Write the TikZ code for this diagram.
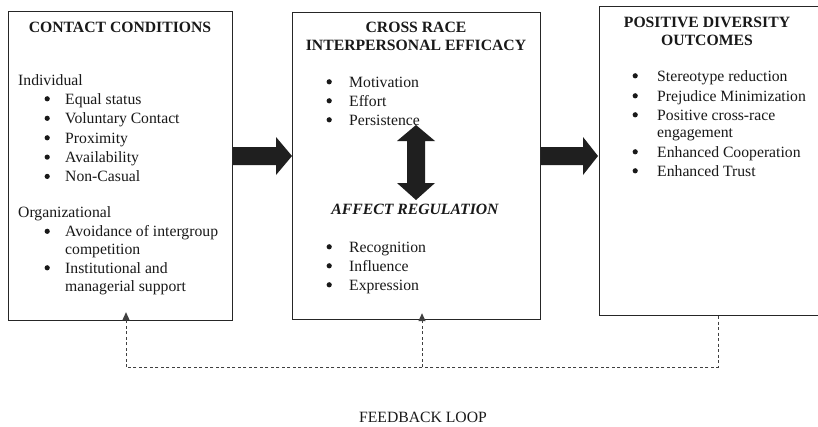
\documentclass[tikz,border=0pt]{standalone}
\usepackage{fontspec}
\setmainfont{Liberation Serif}
\usetikzlibrary{arrows.meta,calc}
\newcommand\bitem[2]{\hspace*{#1}#2}
\begin{document}
\begin{tikzpicture}[x=1pt,y=-1pt,
  box/.style={draw=black!85, line width=1.2pt, inner sep=0, anchor=north west},
  txt/.style={anchor=base west, inner sep=0, font=\fontsize{15.7}{17.5}\selectfont, text=black!90},
  ttl/.style={anchor=base, inner sep=0, font=\fontsize{15.7}{17.5}\selectfont\bfseries, text=black!90},
  fat/.style={fill=black!88},
  dotb/.style={fill=black!90},
  fb/.style={draw=black!75, line width=0.9pt, dash pattern=on 3pt off 2.5pt}
]
\clip (0,0) rectangle (818,426);
\fill[white] (0,0) rectangle (818,426);
% boxes
\node[box, minimum width=224, minimum height=309] (b1) at (8,11) {};
\node[box, minimum width=248, minimum height=307] (b2) at (292,12) {};
\node[box, minimum width=240, minimum height=309] (b3) at (599,6) {};
% box 1
\node[ttl] (t1) at (120,32) {CONTACT CONDITIONS};
\node[txt] (i0) at (18,85) {Individual};
\node[txt] (i1) at (44,104) {\bitem{21pt}{Equal status}};
\node[txt] (i2) at (44,123.5) {\bitem{21pt}{Voluntary Contact}};
\node[txt] (i3) at (44,143) {\bitem{21pt}{Proximity}};
\node[txt] (i4) at (44,162.3) {\bitem{21pt}{Availability}};
\node[txt] (i5) at (44,181.6) {\bitem{21pt}{Non-Casual}};
\node[txt] (o0) at (18,217) {Organizational};
\node[txt] (o1) at (44,236.5) {\bitem{21pt}{Avoidance of intergroup}};
\node[txt] (o1b) at (65,254) {competition};
\node[txt] (o2) at (44,273) {\bitem{21pt}{Institutional and}};
\node[txt] (o2b) at (65,291) {managerial support};
% box 2
\node[ttl] (t2a) at (416,32) {CROSS RACE};
\node[ttl] (t2b) at (416,50) {INTERPERSONAL EFFICACY};
\node[txt] (m1) at (326,87) {\bitem{23pt}{Motivation}};
\node[txt] (m2) at (326,106) {\bitem{23pt}{Effort}};
\node[txt] (m3) at (326,125) {\bitem{23pt}{Persistence}};
\node[ttl, font=\fontsize{15.7}{17.5}\selectfont\bfseries\itshape] (ar) at (415,214) {AFFECT REGULATION};
\node[txt] (r1) at (326,252) {\bitem{23pt}{Recognition}};
\node[txt] (r2) at (326,271) {\bitem{23pt}{Influence}};
\node[txt] (r3) at (326,290) {\bitem{23pt}{Expression}};
% box 3
\node[ttl] (t3a) at (707,27) {POSITIVE DIVERSITY};
\node[ttl] (t3b) at (707,45) {OUTCOMES};
\node[txt] (p1) at (632,81) {\bitem{25pt}{Stereotype reduction}};
\node[txt] (p2) at (632,101) {\bitem{25pt}{Prejudice Minimization}};
\node[txt] (p3) at (632,120) {\bitem{25pt}{Positive cross-race}};
\node[txt] (p3b) at (657,137) {engagement};
\node[txt] (p4) at (632,157) {\bitem{25pt}{Enhanced Cooperation}};
\node[txt] (p5) at (632,176) {\bitem{25pt}{Enhanced Trust}};
% bullets
\foreach \n in {i1,i2,i3,i4,i5,o1,o2,m1,m2,m3,r1,r2,r3,p1,p2,p3,p4,p5}
  \fill[dotb] ($(\n.base west)+(3.2,-5.2)$) circle (2.6);
% fat arrows
\fill[fat] (b1.east |- 0,147) -- (276,147) -- (276,137) -- (b2.west |- 0,156) -- (276,175) -- (276,165) -- (b1.east |- 0,165) -- cycle;
\fill[fat] (b2.east |- 0,147) -- (583,147) -- (583,137) -- (598,156) -- (583,175) -- (583,165) -- (b2.east |- 0,165) -- cycle;
\fill[fat] (416,125) -- (435,141) -- (425,141) -- (425,183) -- (435,183) -- (416,200) -- (397,183) -- (407,183) -- (407,141) -- (397,141) -- cycle;
% feedback loop
\coordinate (fl) at (126,367);
\coordinate (fm) at (422,367);
\coordinate (fr) at (718,367);
\draw[fb] (fr |- b3.south) -- (fr) -- (fl);
\draw[fb, -{Triangle[length=8pt,width=7pt]}] (fl) -- ($(fl |- b1.south)+(0,-9)$);
\draw[fb, -{Triangle[length=8pt,width=7pt]}] (fm) -- ($(fm |- b2.south)+(0,-7)$);
\node[anchor=base, inner sep=0, font=\fontsize{15.7}{17.5}\selectfont, text=black!90] (fbl) at (423,422) {FEEDBACK LOOP};
\end{tikzpicture}
\end{document}
